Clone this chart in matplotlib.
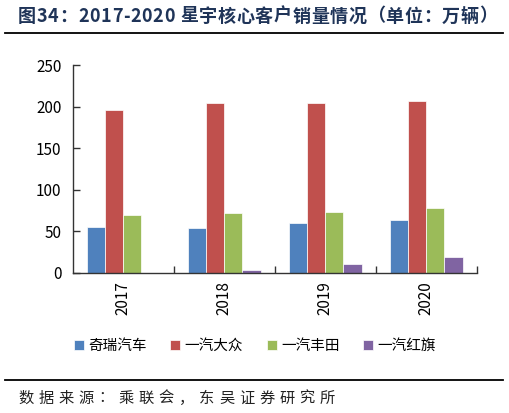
import matplotlib.pyplot as plt
import numpy as np
from matplotlib.lines import Line2D

plt.rcParams['font.family'] = ['Noto Sans CJK SC', 'DejaVu Sans']

years = ['2017', '2018', '2019', '2020']
series_names = ['奇瑞汽车', '一汽大众', '一汽丰田', '一汽红旗']
chery = [55, 54, 60, 63]
faw_vw = [196, 204, 205, 207]
faw_toyota = [69, 72, 73, 78]
hongqi = [0, 3, 10, 19]
colors = ['#4F81BD', '#C0504D', '#9BBB59', '#8064A2']

title = '图34：2017-2020 星宇核心客户销量情况（单位：万辆）'
source = '数据来源：乘联会，东吴证券研究所'


def tracked_text(fig, s, x0, x1, y, **kw):
    # the original font is set looser, so spread the glyphs from x0 to x1 (pixels)
    r = fig.canvas.get_renderer()
    widths = []
    for ch in s:
        t = fig.text(0, 0, ch, **kw)
        widths.append(t.get_window_extent(r).width)
        t.remove()
    gap = (x1 - x0 - sum(widths)) / (len(s) - 1)
    W, H = fig.bbox.width, fig.bbox.height
    pos = x0
    for ch, cw in zip(s, widths):
        fig.text(pos / W, 1 - y / H, ch, va='center', ha='left', **kw)
        pos += cw + gap


fig = plt.figure(figsize=(5.1, 4.13), dpi=100)
ax = fig.add_axes([0.1425, 0.3397, 0.7922, 0.5022])

x = np.arange(len(years))
w = 0.18
for i, vals in enumerate([chery, faw_vw, faw_toyota, hongqi]):
    ax.bar(x + (i - 1.5) * w, vals, w, color=colors[i], edgecolor='white',
           linewidth=0.5, label=series_names[i], zorder=2)

ax.set_xlim(-0.5, len(years) - 0.5)
ax.set_ylim(0, 250)
ax.set_yticks(range(0, 251, 50))
ax.set_xticks(x)
ax.set_xticklabels(years, rotation=90, fontsize=11)
ax.tick_params(axis='x', length=0, pad=6)
# category separator ticks
ax.set_xticks(np.arange(0.5, len(years), 1), minor=True)
ax.tick_params(axis='x', which='minor', direction='in', length=5, width=1, color='#333333')
ax.tick_params(axis='y', direction='in', length=5, width=1, color='#333333', labelsize=11, pad=8)
for s in ['top', 'right']:
    ax.spines[s].set_visible(False)
for s in ['left', 'bottom']:
    ax.spines[s].set_color('#333333')
    ax.spines[s].set_linewidth(1)

ax.legend(loc='center', bbox_to_anchor=(0.5, 67 / 413), bbox_transform=fig.transFigure,
          ncol=4, frameon=False, fontsize=10.5, handlelength=0.7, handleheight=0.7,
          handletextpad=0.3, columnspacing=1.6)

tracked_text(fig, title, 18, 497, 16, fontsize=13, fontweight='bold', color='#1F3458')
fig.add_artist(Line2D([5 / 510, 503 / 510], [1 - 33 / 413, 1 - 33 / 413],
                      color='black', linewidth=1.3))
fig.add_artist(Line2D([5 / 510, 503 / 510], [1 - 380 / 413, 1 - 380 / 413],
                      color='black', linewidth=1.3))
tracked_text(fig, source, 18, 335, 398, fontsize=11, color='#222222')

fig.savefig('out.png', dpi=100)
